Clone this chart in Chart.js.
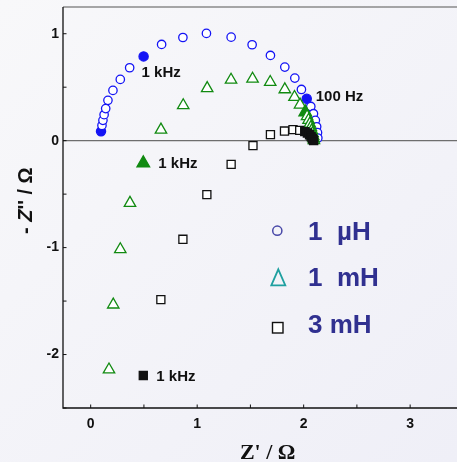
<!DOCTYPE html>
<html><head><meta charset="utf-8">
<script src="https://cdn.jsdelivr.net/npm/chart.js@4.4.0/dist/chart.umd.min.js"></script>
<style>html,body{margin:0;padding:0;background:#f4f4f8;}#wrap{width:457px;height:462px;}</style>
</head><body><div id="wrap"><canvas id="c" width="457" height="462"></canvas></div>
<script>
// ---- data (Z' , -Z'' in ohm) ----
const uHx = [0.097,0.106,0.115,0.126,0.141,0.162,0.209,0.278,0.366,0.497,0.666,0.866,1.087,1.319,1.516,1.688,1.823,1.917,1.979,2.029,2.067,2.092,2.110,2.122,2.130,2.133];
const uHy = [0.087,0.143,0.190,0.243,0.300,0.377,0.470,0.573,0.682,0.788,0.900,0.965,1.003,0.968,0.897,0.797,0.688,0.585,0.479,0.392,0.320,0.252,0.190,0.130,0.075,0.025];
const mH1x = [0.172,0.212,0.278,0.369,0.494,0.660,0.869,1.094,1.318,1.520,1.686,1.823,1.914,1.966,2.015,2.032,2.046,2.058,2.068,2.076,2.083,2.089,2.093,2.096];
const mH1y = [-2.141,-1.534,-1.016,-0.583,-0.210,0.102,0.330,0.490,0.569,0.578,0.548,0.479,0.407,0.336,0.267,0.228,0.192,0.158,0.126,0.096,0.068,0.043,0.021,0.004];
const mH3x = [0.494,0.659,0.866,1.091,1.319,1.524,1.688,1.820,1.900,1.963,2.010,2.035,2.055,2.070,2.082,2.090,2.094];
const mH3y = [-2.196,-1.486,-0.922,-0.505,-0.222,-0.047,0.056,0.090,0.103,0.096,0.085,0.072,0.055,0.038,0.022,0.008,0.000];
const seriesNames = ['1  µH','1  mH','3 mH'];
const xTicks = [0,1,2,3];
const yTicks = [-2,-1,0,1];
// marked (filled) points
const uHFilled = [0,9,19];
const mH1Filled = [4,14];
const mH3Filled = [0,10,11,12,13,14,15,16];
// frequency annotations: [series, point index, text]
const freqLabels = [[0,9,'1 kHz'],[0,19,'100 Hz'],[1,4,'1 kHz'],[2,0,'1 kHz']];

const toPts = (xs,ys)=>xs.map((x,i)=>({x:x,y:ys[i]}));
const fillArr = (n,set,on,off)=>Array.from({length:n},(_,i)=>set.includes(i)?on:off);

const labelOffsets = [[-2,16],[9,-2],[15,1],[13,1]];

const bgPlugin = {
  id:'bg',
  beforeDraw(chart){
    const c=chart.ctx; c.save();
    const g=c.createLinearGradient(0,0,457,462);
    g.addColorStop(0,'#f8f8fa'); g.addColorStop(1,'#efeff7');
    c.fillStyle=g; c.fillRect(0,0,chart.width,chart.height); c.restore();
  },
  beforeDatasetsDraw(chart){
    const c=chart.ctx, a=chart.chartArea, xs=chart.scales.x, ys=chart.scales.y;
    c.save();
    const y0=ys.getPixelForValue(0);
    c.strokeStyle='#6e6e6e'; c.lineWidth=1.4;
    c.beginPath(); c.moveTo(a.left,y0); c.lineTo(a.right,y0); c.stroke();
    c.strokeStyle='#8a8a8a'; c.lineWidth=1.6;
    c.beginPath(); c.moveTo(a.left,a.top); c.lineTo(a.right,a.top); c.stroke();
    c.strokeStyle='#111'; c.lineWidth=1.3;
    c.beginPath(); c.moveTo(a.left,a.top); c.lineTo(a.left,a.bottom); c.lineTo(a.right,a.bottom); c.stroke();
    c.lineWidth=1;
    for(let v=0; v<=3.001; v+=0.5){
      const px=xs.getPixelForValue(v);
      c.beginPath(); c.moveTo(px,a.bottom); c.lineTo(px,a.bottom-3.5); c.stroke();
    }
    for(let v=-2.5; v<=1.001; v+=0.5){
      const py=ys.getPixelForValue(v);
      c.beginPath(); c.moveTo(a.left,py); c.lineTo(a.left+3.5,py); c.stroke();
    }
    c.restore();
  },
  afterDraw(chart){
    const c=chart.ctx;
    c.save();
    c.fillStyle='#111'; c.font='bold 15px "Liberation Sans", Arial, sans-serif';
    c.textBaseline='middle'; c.textAlign='left';
    freqLabels.forEach((f,k)=>{
      const el=chart.getDatasetMeta(f[0]).data[f[1]];
      c.fillText(f[2], el.x+labelOffsets[k][0], el.y+labelOffsets[k][1]);
    });
    const rows=[239.5,286,333.3];
    c.font='bold 26px "Liberation Sans", Arial, sans-serif';
    c.textBaseline='alphabetic'; c.fillStyle='#303090';
    seriesNames.forEach((n,i)=>c.fillText(n,308,rows[i]));
    c.lineWidth=1.5; c.strokeStyle='#4848a8';
    c.beginPath(); c.arc(277.3,230.7,4.6,0,Math.PI*2); c.stroke();
    c.strokeStyle='#1fa0a0'; c.lineWidth=1.8;
    c.beginPath(); c.moveTo(278.3,269.3); c.lineTo(285.3,285.3); c.lineTo(271.3,285.3); c.closePath(); c.stroke();
    c.fillStyle='#ffffff'; c.fillRect(272.5,322.5,10.5,10.5);
    c.strokeStyle='#111'; c.lineWidth=1.4; c.strokeRect(272.5,322.5,10.5,10.5);
    c.fillStyle='#111';
    c.font='bold 22px "Liberation Serif", "Times New Roman", serif';
    c.textAlign='center'; c.fillText("Z' / Ω", 267.7, 459);
    c.translate(31.5,200.7); c.rotate(-Math.PI/2);
    const segs=[['- ','bold'],['Z','italic bold'],["'' / Ω",'bold']];
    let tw=0; segs.forEach(s=>{c.font=s[1]+' 20px "Liberation Sans", Arial, sans-serif'; tw+=c.measureText(s[0]).width;});
    let x=-tw/2; c.textAlign='left';
    segs.forEach(s=>{c.font=s[1]+' 20px "Liberation Sans", Arial, sans-serif'; c.fillText(s[0],x,0); x+=c.measureText(s[0]).width;});
    c.restore();
  }
};

const tickFont={family:'"Liberation Sans", Arial, sans-serif',size:14,weight:'bold'};
new Chart(document.getElementById('c'),{
  type:'scatter',
  data:{datasets:[
    {label:seriesNames[0],data:toPts(uHx,uHy),pointStyle:'circle',order:3,
     pointRadius:fillArr(uHx.length,uHFilled,4.6,4.2),pointBorderWidth:1.3,
     pointBorderColor:'#1414f5',pointBackgroundColor:fillArr(uHx.length,uHFilled,'#1414f5','#ffffff')},
    {label:seriesNames[1],data:toPts(mH1x,mH1y),pointStyle:'triangle',order:2,
     pointRadius:fillArr(mH1x.length,mH1Filled,7.3,6.6),pointBorderWidth:1.3,
     pointBorderColor:'#118a11',pointBackgroundColor:fillArr(mH1x.length,mH1Filled,'#118a11','#ffffff')},
    {label:seriesNames[2],data:toPts(mH3x,mH3y),pointStyle:'rect',order:1,
     pointRadius:5.7,pointBorderWidth:1.3,
     pointBorderColor:'#111111',pointBackgroundColor:fillArr(mH3x.length,mH3Filled,'#111111','#ffffff')}
  ]},
  options:{
    responsive:false,animation:false,devicePixelRatio:1,
    layout:{autoPadding:false,padding:{top:7,left:0,right:0,bottom:0}},
    plugins:{legend:{display:false},tooltip:{enabled:false}},
    scales:{
      x:{type:'linear',min:-0.26,max:3.44,
         afterBuildTicks:s=>{s.ticks=xTicks.map(v=>({value:v}));},
         afterFit:s=>{s.height=54;s.paddingLeft=0;s.paddingRight=0;s.paddingTop=0;s.paddingBottom=0;},
         grid:{display:false,drawTicks:false,tickLength:0},border:{display:false},
         ticks:{font:tickFont,color:'#111',padding:8,maxRotation:0}},
      y:{type:'linear',min:-2.5,max:1.25,
         afterBuildTicks:s=>{s.ticks=yTicks.map(v=>({value:v}));},
         afterFit:s=>{s.width=63;s.paddingLeft=0;s.paddingRight=0;s.paddingTop=0;s.paddingBottom=0;},
         grid:{display:false,drawTicks:false,tickLength:0},border:{display:false},
         ticks:{font:tickFont,color:'#111',padding:4}}
    }
  },
  plugins:[bgPlugin]
});
</script></body></html>
